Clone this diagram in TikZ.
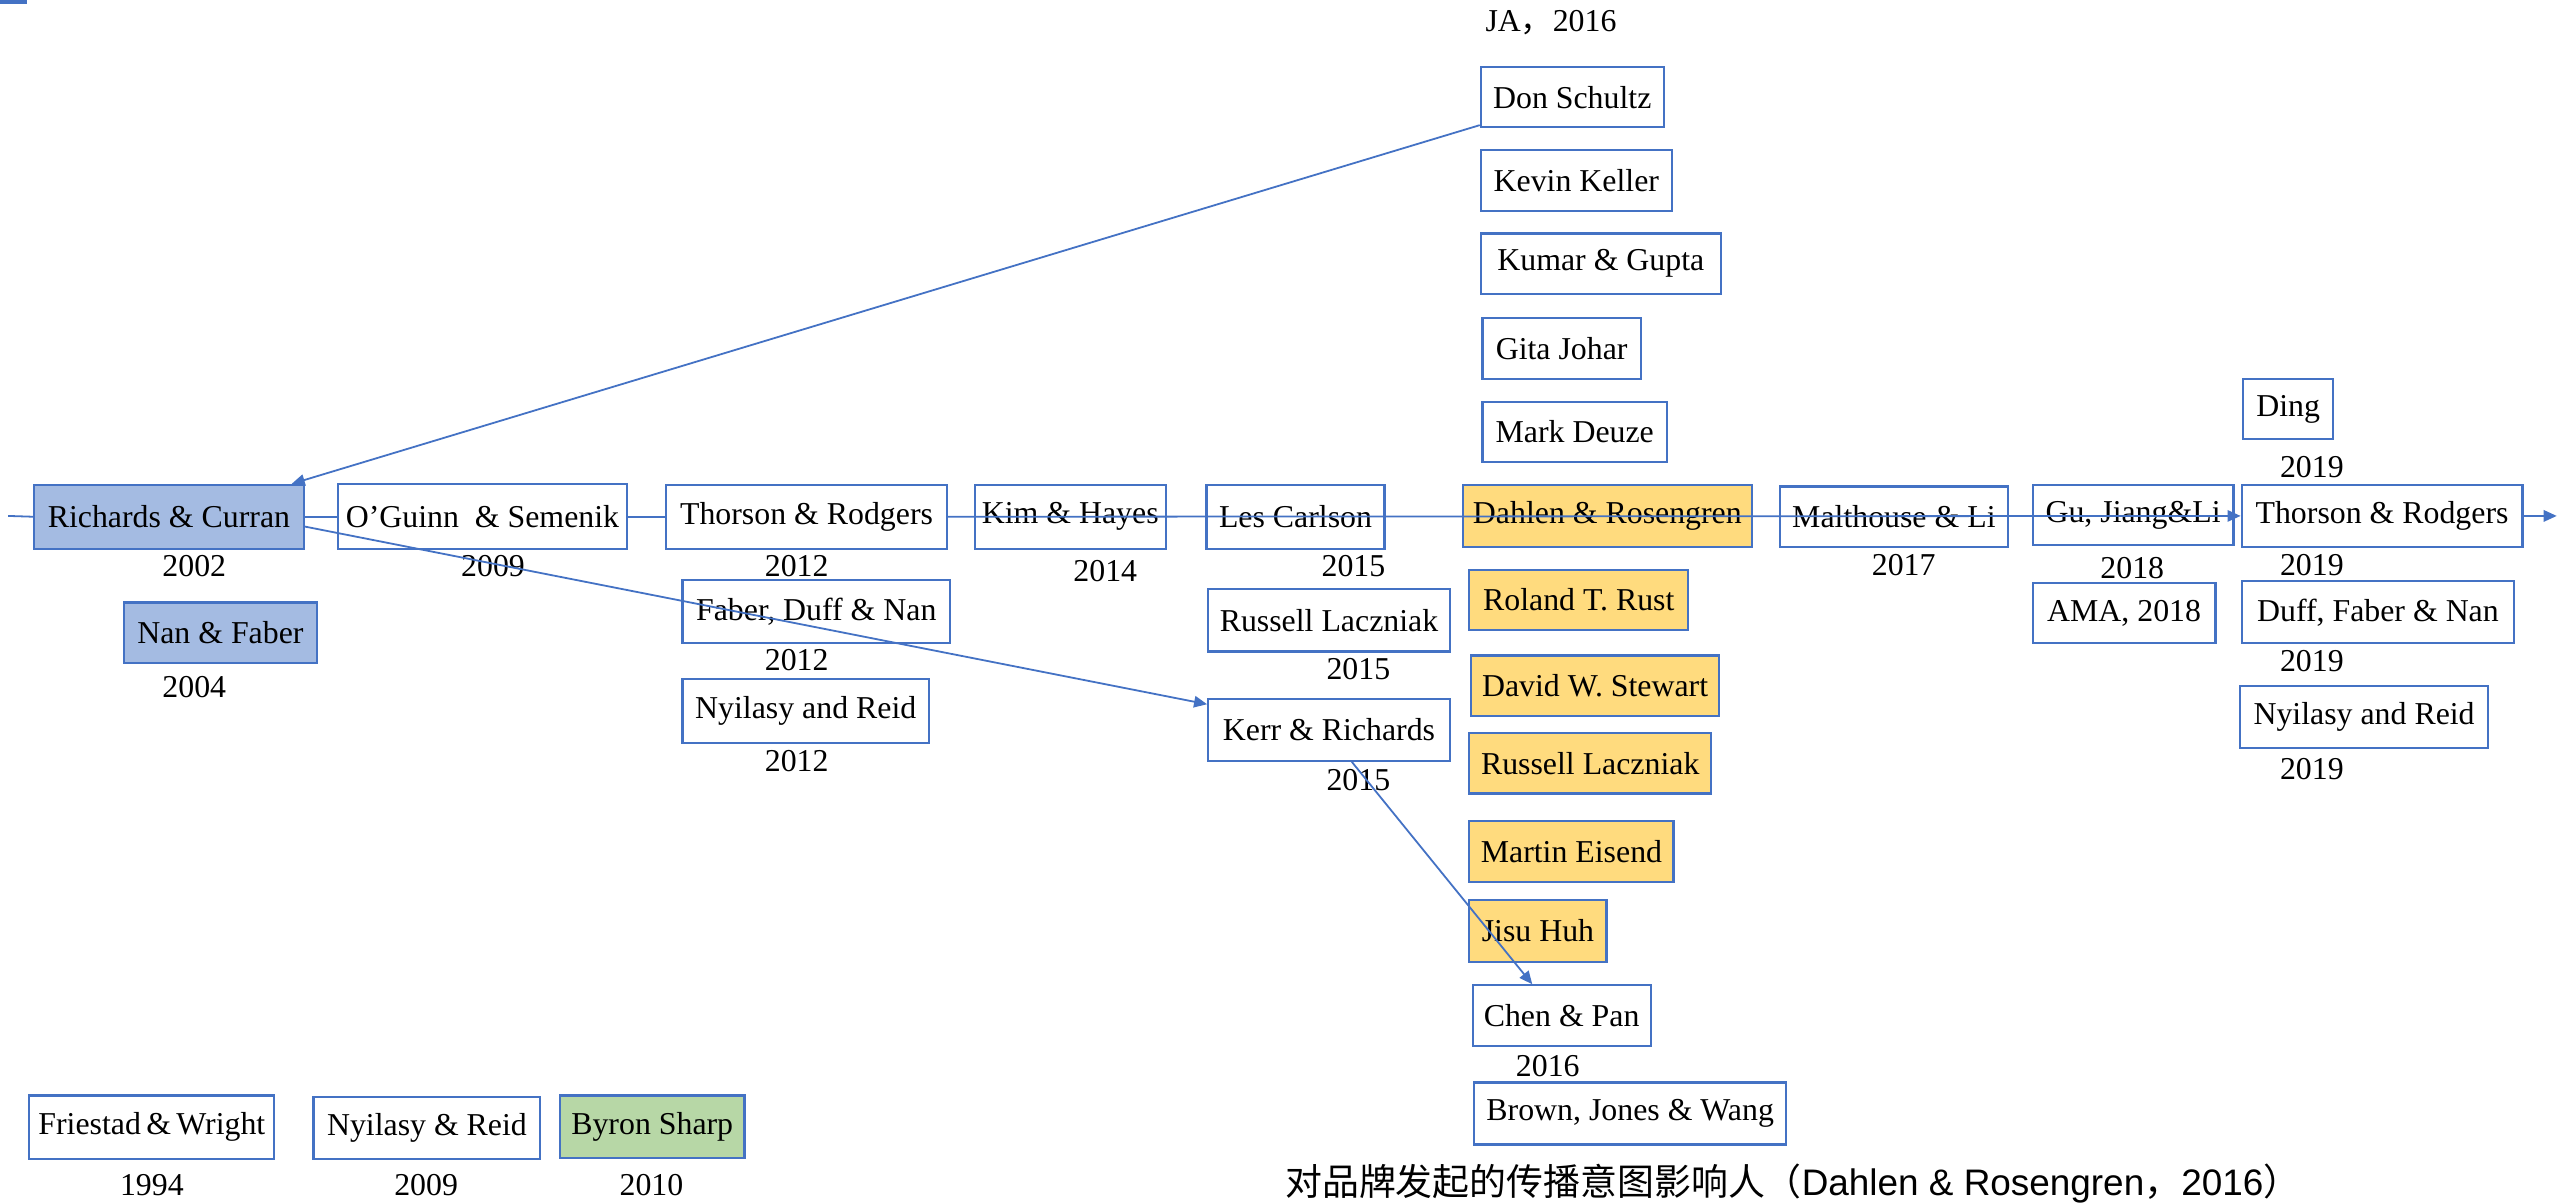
\documentclass[tikz,border=0pt]{standalone}
\usepackage{fontspec}
\setmainfont{Liberation Serif}
\newfontfamily\cjk{Noto Sans CJK SC}
\newfontfamily\capsans{Liberation Sans}
\usetikzlibrary{arrows.meta,calc}
\definecolor{lineblue}{HTML}{4472C4}
\definecolor{boxblue}{HTML}{A4BBE2}
\definecolor{boxyellow}{HTML}{FFDB7E}
\definecolor{boxgreen}{HTML}{B7D7A6}
\begin{document}
\begin{tikzpicture}[x=1pt,y=-1pt,
  box/.style={draw=lineblue, line width=1.3pt, fill=white, inner sep=0pt,
    minimum height=38pt, font=\fontsize{19.5}{22}\selectfont},
  bluebox/.style={box, fill=boxblue},
  yellowbox/.style={box, fill=boxyellow},
  greenbox/.style={box, fill=boxgreen},
  yr/.style={inner sep=0pt, font=\fontsize{19.5}{22}\selectfont},
  link/.style={draw=lineblue, line width=1.1pt},
  arr/.style={link, -{Triangle[length=8pt,width=7pt]}}]
\useasboundingbox (0,0) rectangle (1568,737);
\fill[lineblue] (0,0) rectangle (16.5,2.5);

% left column
\node[bluebox, minimum width=165pt, minimum height=39pt] (rc) at (103.5,316.5) {Richards \& Curran};
\node[yr] (y2002) at (119,347) {2002};
\node[bluebox, minimum width=118pt, minimum height=37pt] (nf) at (135,387.5) {Nan \& Faber};
\node[yr] (y2004) at (119,421) {2004};

\node[box, minimum width=177pt, minimum height=40pt] (og) at (295.5,316.5) {O’Guinn \ \& Semenik};
\node[yr] (y2009) at (302,347) {2009};

\node[box, minimum width=172pt, minimum height=39pt] (tr12) at (494,316.5) {Thorson \& Rodgers};
\node[yr] (y2012a) at (488,347) {2012};
\node[box, minimum width=164pt, minimum height=39pt] (fdn) at (500,374.5) {Faber, Duff \& Nan};
\node[yr] (y2012b) at (488,404) {2012};
\node[box, minimum width=151pt, minimum height=39pt] (nr12) at (493.5,435.5) {Nyilasy and Reid};
\node[yr] (y2012c) at (488,466) {2012};

\node[box, minimum width=117pt, minimum height=39pt] (kh) at (655.5,316.5) {Kim \& Hayes};
\node[yr] (y2014) at (677,350) {2014};

\node[box, minimum width=109pt, minimum height=39pt] (lc) at (793.5,316.5) {Les Carlson};
\node[yr] (y2015a) at (829,347) {2015};
\node[box, minimum width=148pt] (rl15) at (814,380) {Russell Laczniak};
\node[yr] (y2015b) at (832,410) {2015};
\node[box, minimum width=148pt] (kr) at (814,447) {Kerr \& Richards};
\node[yr] (y2015c) at (832,478) {2015};

% JA 2016 column
\node[yr] (ja) at (950,14) {JA{\cjk ，}2016};
\node[box, minimum width=112pt, minimum height=37pt] (ds) at (963,59.5) {Don Schultz};
\node[box, minimum width=117pt, minimum height=37pt] (kk) at (965.5,110.5) {Kevin Keller};
\node[box, minimum width=147pt, minimum height=37pt] (kg) at (980.5,161.5) {Kumar \& Gupta};
\node[box, minimum width=97pt, minimum height=37pt] (gj) at (956.5,213.5) {Gita Johar};
\node[box, minimum width=113pt, minimum height=37pt] (md) at (964.5,264.5) {Mark Deuze};
\node[yellowbox, minimum width=177pt] (dr) at (984.5,316) {Dahlen \& Rosengren};
\node[yellowbox, minimum width=134pt, minimum height=37pt] (rr) at (967,367.5) {Roland T. Rust};
\node[yellowbox, minimum width=152pt, minimum height=37pt] (dws) at (977,420) {David W. Stewart};
\node[yellowbox, minimum width=148pt, minimum height=37pt] (rl16) at (974,467.5) {Russell Laczniak};
\node[yellowbox, minimum width=125pt, minimum height=37pt] (me) at (962.5,521.5) {Martin Eisend};
\node[yellowbox, minimum width=84pt] (jh) at (942,570) {Jisu Huh};
\node[box, minimum width=109pt, minimum height=37pt] (cp) at (956.5,622) {Chen \& Pan};
\node[yr] (y2016) at (948,653) {2016};
\node[box, minimum width=191pt] (bjw) at (998.5,682) {Brown, Jones \& Wang};

% right columns
\node[box, minimum width=140pt, minimum height=37pt] (ml) at (1160,316.5) {Malthouse \& Li};
\node[yr] (y2017) at (1166,346) {2017};
\node[box, minimum width=123pt, minimum height=37pt] (gjl) at (1306.5,315.5) {Gu, Jiang\&Li};
\node[yr] (y2018) at (1306,348) {2018};
\node[box, minimum width=112pt, minimum height=37pt] (ama) at (1301,375.5) {AMA, 2018};

\node[box, minimum width=55pt, minimum height=37pt] (ding) at (1401.5,250.5) {Ding};
\node[yr] (y2019a) at (1416,286) {2019};
\node[box, minimum width=172pt] (tr19) at (1459,316) {Thorson \& Rodgers};
\node[yr] (y2019b) at (1416,346) {2019};
\node[box, minimum width=167pt] (dfn) at (1456.5,375) {Duff, Faber \& Nan};
\node[yr] (y2019c) at (1416,405) {2019};
\node[box, minimum width=152pt] (nr19) at (1448,439) {Nyilasy and Reid};
\node[yr] (y2019d) at (1416,471) {2019};

% bottom row
\node[box, minimum width=150pt, minimum height=39pt] (fw) at (93,690.5) {Friestad\,\&\,Wright};
\node[yr] (y1994) at (93,726) {1994};
\node[box, minimum width=139pt] (nyr) at (261.5,691) {Nyilasy \& Reid};
\node[yr] (y2009b) at (261,726) {2009};
\node[greenbox, minimum width=113pt] (bs) at (399.5,690) {Byron Sharp};
\node[yr] (y2010) at (399,726) {2010};

\node[anchor=west, inner sep=0pt, font=\cjk\fontsize{22.6}{26}\selectfont] (cap) at (787,725)
  {对品牌发起的传播意图影响人（{\capsans Dahlen \& Rosengren}，{\capsans 2016}）};

% timeline
\coordinate (tstart) at (5,316);
\coordinate (tend) at (1566,316);
\draw[link] (tstart) -- (rc.west);
\draw[link] (rc.east) -- (og.west);
\draw[link] (og.east) -- (tr12.west);
\draw[arr] (tr12.east) -- (tr19.west);
\draw[arr] (tr19.east) -- (tend);

% influence links
\draw[arr] ([yshift=2pt]ds.south west) -- ([xshift=-8pt]rc.north east);
\draw[arr] ([yshift=-6pt]rc.east) -- ([yshift=-4pt]kr.north west);
\draw[arr] ([xshift=14pt]kr.south) -- ([xshift=-18pt]cp.north);
\end{tikzpicture}
\end{document}
